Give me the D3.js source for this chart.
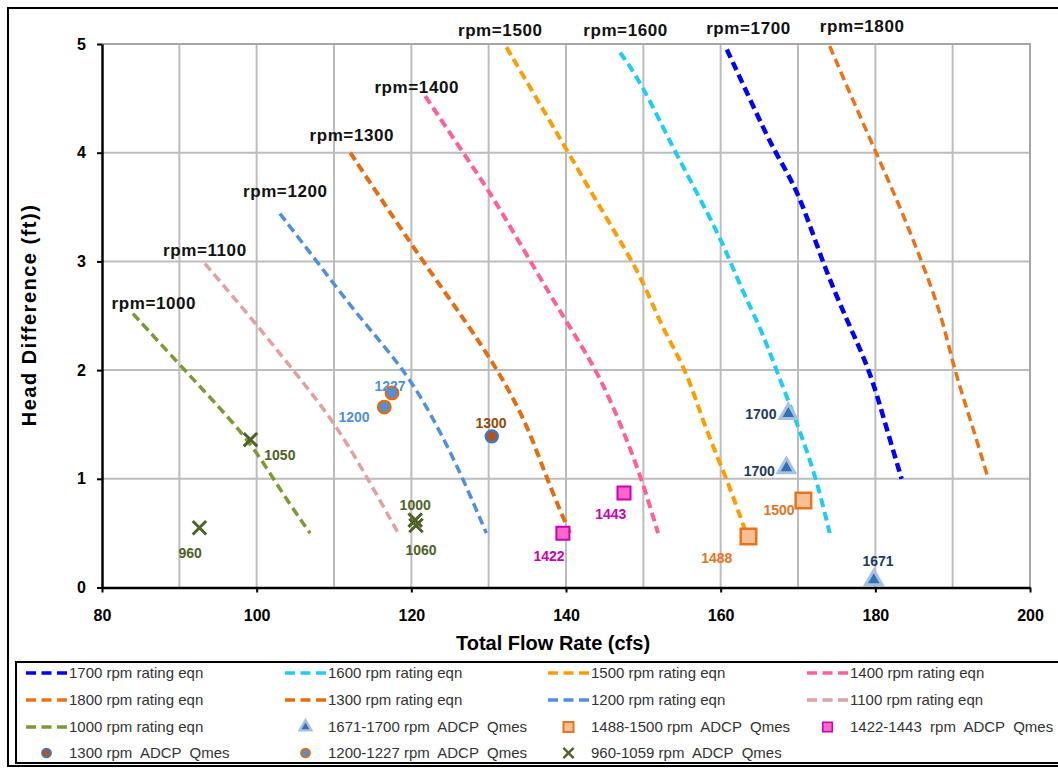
<!DOCTYPE html>
<html>
<head>
<meta charset="utf-8">
<script src="https://cdn.jsdelivr.net/npm/d3@7"></script>
<style>
body{margin:0;background:#fff}
svg{display:block}
text{font-family:"Liberation Sans",Arial,sans-serif}
</style>
</head>
<body>
<svg id="chart" width="1058" height="768"></svg>
<script>
// rating curves: flow Q (cfs) and head difference H (ft)
var q1000 = [84.0, 89.9, 94.5, 99.5, 103.0, 106.9];
var h1000 = [2.52, 2.06, 1.71, 1.31, 0.90, 0.50];
var q1100 = [93.3, 100.0, 104.7, 109.9, 114.4, 118.3];
var h1100 = [2.98, 2.42, 2.00, 1.54, 1.00, 0.50];
var q1200 = [103.0, 108.0, 113.2, 119.2, 123.3, 126.7, 129.7];
var h1200 = [3.44, 2.98, 2.49, 2.00, 1.50, 1.00, 0.50];
var q1300 = [112.1, 116.5, 121.5, 127.2, 131.2, 135.0, 137.5, 140.5];
var h1300 = [4.00, 3.53, 3.00, 2.43, 2.00, 1.50, 1.00, 0.50];
var q1400 = [121.8, 126.7, 130.5, 135.4, 139.9, 144.0, 147.1, 149.8, 151.9];
var h1400 = [4.52, 4.00, 3.60, 3.00, 2.46, 2.00, 1.50, 1.00, 0.50];
var q1500 = [132.3, 136.2, 140.3, 145.2, 149.8, 152.3, 155.6, 157.8, 160.8, 163.3];
var h1500 = [4.97, 4.50, 4.00, 3.40, 2.86, 2.40, 2.00, 1.50, 1.00, 0.50];
var q1600 = [147.0, 149.8, 154.1, 160.0, 162.5, 165.1, 167.2, 170.0, 172.4, 174.1];
var h1600 = [4.92, 4.64, 4.00, 3.23, 2.77, 2.40, 2.00, 1.49, 1.00, 0.50];
var q1700 = [160.8, 164.0, 167.0, 170.0, 173.1, 176.3, 179.3, 181.3, 183.4];
var h1700 = [4.95, 4.46, 4.00, 3.66, 3.00, 2.46, 2.00, 1.50, 1.00];
var q1800 = [174.1, 177.0, 180.1, 183.2, 186.0, 188.6, 190.2, 192.5, 194.6];
var h1800 = [4.98, 4.50, 4.00, 3.50, 3.00, 2.50, 2.00, 1.50, 1.00];

// rpm=... captions: anchor (Q, H) of each caption
var rpmNames = ["rpm=1000","rpm=1100","rpm=1200","rpm=1300","rpm=1400","rpm=1500","rpm=1600","rpm=1700","rpm=1800"];
var rpmNameQ = [86.7, 93.3, 103.7, 112.3, 120.7, 131.5, 147.7, 163.6, 178.3];
var rpmNameH = [2.56, 3.05, 3.59, 4.11, 4.55, 5.07, 5.07, 5.09, 5.11];

// ADCP measurements
var q1671 = [168.75, 168.5, 179.8];
var h1671 = [1.60, 1.10, 0.07];
var lab1671 = ["1700", "1700", "1671"];
var labQ1671 = [165.2, 165.0, 180.35];
var labH1671 = [1.55, 1.026, 0.198];

var q1488 = [163.6, 170.7];
var h1488 = [0.47, 0.80];
var lab1488 = ["1488", "1500"];
var labQ1488 = [159.5, 167.55];
var labH1488 = [0.225, 0.667];

var q1422 = [139.6, 147.5];
var h1422 = [0.50, 0.87];
var lab1422 = ["1422", "1443"];
var labQ1422 = [137.8, 145.8];
var labH1422 = [0.244, 0.630];

var q1300m = [130.4];
var h1300m = [1.39];
var lab1300 = ["1300"];
var labQ1300 = [130.3];
var labH1300 = [1.467];

var q1200m = [116.5, 117.5];
var h1200m = [1.66, 1.79];
var lab1200 = ["1200", "1227"];
var labQ1200 = [112.6, 117.25];
var labH1200 = [1.522, 1.812];

var q960 = [92.6, 99.2, 120.5, 120.6];
var h960 = [0.55, 1.36, 0.62, 0.57];
var lab960 = ["960", "1050", "1000", "1060"];
var labQ960 = [91.4, 103.0, 120.5, 121.25];
var labH960 = [0.271, 1.173, 0.713, 0.299];

var xTicks = [80, 100, 120, 140, 160, 180, 200];
var yTicks = [0, 1, 2, 3, 4, 5];
var xGridVals = [90, 100, 110, 120, 130, 140, 150, 160, 170, 180, 190, 200];

var legendNames = [
  "1700 rpm rating eqn", "1600 rpm rating eqn", "1500 rpm rating eqn", "1400 rpm rating eqn",
  "1800 rpm rating eqn", "1300 rpm rating eqn", "1200 rpm rating eqn", "1100 rpm rating eqn",
  "1000 rpm rating eqn", "1671-1700 rpm  ADCP  Qmes", "1488-1500 rpm  ADCP  Qmes", "1422-1443  rpm  ADCP  Qmes",
  "1300 rpm  ADCP  Qmes", "1200-1227 rpm  ADCP  Qmes", "960-1059 rpm  ADCP  Qmes"
];

// ---------- build ----------
var curves = [
  {key: "1700", q: q1700, h: h1700, color: "#0000ff", w: 4.5},
  {key: "1600", q: q1600, h: h1600, color: "#1ccdf7", w: 4},
  {key: "1500", q: q1500, h: h1500, color: "#ff9d00", w: 4},
  {key: "1400", q: q1400, h: h1400, color: "#ff5f9a", w: 4},
  {key: "1800", q: q1800, h: h1800, color: "#ed7216", w: 3.5},
  {key: "1300", q: q1300, h: h1300, color: "#e66c0e", w: 4},
  {key: "1200", q: q1200, h: h1200, color: "#4f8fdc", w: 3.5},
  {key: "1100", q: q1100, h: h1100, color: "#e3a0a0", w: 3.5},
  {key: "1000", q: q1000, h: h1000, color: "#7b9a35", w: 3.5}
];

var xSym = d3.symbolX || {draw: function(c, s){ var r = Math.sqrt(s) / 2; c.moveTo(-r,-r); c.lineTo(r,r); c.moveTo(-r,r); c.lineTo(r,-r); }};

var groups = [
  {q: q1671, h: h1671, lab: lab1671, lq: labQ1671, lh: labH1671, type: d3.symbolTriangle, size: 120, lsize: 60,
   fill: "#2f72b8", stroke: "#a9c1e0", sw: 3, lcolor: "#1f3a5f"},
  {q: q1488, h: h1488, lab: lab1488, lq: labQ1488, lh: labH1488, type: d3.symbolSquare, size: 240, lsize: 100,
   fill: "#f9bf91", stroke: "#e8731c", sw: 2.5, lcolor: "#e8731c"},
  {q: q1422, h: h1422, lab: lab1422, lq: labQ1422, lh: labH1422, type: d3.symbolSquare, size: 170, lsize: 90,
   fill: "#ff66cc", stroke: "#cc00b4", sw: 2, lcolor: "#cc00b4"},
  {q: q1300m, h: h1300m, lab: lab1300, lq: labQ1300, lh: labH1300, type: d3.symbolCircle, size: 110, lsize: 60,
   fill: "#b5531c", stroke: "#3f77c0", sw: 2.5, lcolor: "#984807"},
  {q: q1200m, h: h1200m, lab: lab1200, lq: labQ1200, lh: labH1200, type: d3.symbolCircle, size: 120, lsize: 60,
   fill: "#4f8fdc", stroke: "#e46c0a", sw: 2.5, lcolor: "#4f8fdc"},
  {q: q960, h: h960, lab: lab960, lq: labQ960, lh: labH960, type: xSym, size: 120, lsize: 70,
   fill: "none", stroke: "#4f6228", sw: 3, lcolor: "#4f6228"}
];

var svg = d3.select("#chart");
svg.append("rect").attr("width", 1058).attr("height", 768).attr("fill", "#fff");

var x = d3.scaleLinear().domain([80, 200]).range([102, 1030]);
var y = d3.scaleLinear().domain([0, 5]).range([587.5, 44]);

// outer frame
svg.append("rect").attr("x", 8).attr("y", 8).attr("width", 1070).attr("height", 758)
  .attr("fill", "none").attr("stroke", "#000").attr("stroke-width", 2);

// grid
var grid = svg.append("g");
grid.selectAll(".gx").data(xGridVals).enter().append("line")
  .attr("x1", d => x(d)).attr("x2", d => x(d)).attr("y1", y(0)).attr("y2", y(5))
  .attr("stroke", "#bdbdbd").attr("stroke-width", 2);
grid.selectAll(".gy").data(yTicks.slice(1)).enter().append("line")
  .attr("x1", x(80)).attr("x2", x(200)).attr("y1", d => y(d)).attr("y2", d => y(d))
  .attr("stroke", "#bdbdbd").attr("stroke-width", 2);
grid.append("path").attr("d", `M${x(80)},${y(5)}H${x(200)}V${y(0)}`)
  .attr("fill", "none").attr("stroke", "#a6a6a6").attr("stroke-width", 2);

// rating curves
var line = d3.line().x(d => x(d[0])).y(d => y(d[1])).curve(d3.curveBasis);
svg.append("g").selectAll("path").data(curves).enter().append("path")
  .attr("d", c => line(d3.zip(c.q, c.h)))
  .attr("fill", "none").attr("stroke", c => c.color).attr("stroke-width", c => c.w)
  .attr("stroke-dasharray", "9,5");

// rpm captions
svg.append("g").selectAll("text").data(rpmNames).enter().append("text")
  .attr("x", (d, i) => x(rpmNameQ[i])).attr("y", (d, i) => y(rpmNameH[i]))
  .attr("text-anchor", "middle").attr("font-size", 17).attr("font-weight", "bold")
  .attr("letter-spacing", 0.6).attr("fill", "#111").text(d => d);

// ADCP markers and labels
groups.forEach(function(g){
  var sym = d3.symbol().type(g.type).size(g.size);
  var gg = svg.append("g");
  gg.selectAll("path").data(d3.range(g.q.length)).enter().append("path")
    .attr("transform", i => `translate(${x(g.q[i])},${y(g.h[i])})`)
    .attr("d", sym()).attr("fill", g.fill).attr("stroke", g.stroke).attr("stroke-width", g.sw);
  gg.selectAll("text").data(g.lab).enter().append("text")
    .attr("x", (d, i) => x(g.lq[i])).attr("y", (d, i) => y(g.lh[i]))
    .attr("text-anchor", "middle").attr("font-size", 14).attr("font-weight", "bold")
    .attr("fill", g.lcolor).text(d => d);
});

// axes
var axL = svg.append("g").attr("transform", `translate(${x(80)},0)`)
  .call(d3.axisLeft(y).tickValues(yTicks).tickFormat(d3.format("d")).tickSize(5).tickSizeOuter(0).tickPadding(11));
var axB = svg.append("g").attr("transform", `translate(0,${y(0)})`)
  .call(d3.axisBottom(x).tickValues(xTicks).tickFormat(d3.format("d")).tickSize(5).tickSizeOuter(0).tickPadding(17));
[axL, axB].forEach(function(a){
  a.select(".domain").attr("stroke", "#000").attr("stroke-width", 2.5);
  a.selectAll(".tick line").attr("stroke", "#000").attr("stroke-width", 2);
  a.selectAll(".tick text").attr("font-size", 16).attr("font-weight", "bold").attr("fill", "#000")
    .attr("font-family", '"Liberation Sans",Arial,sans-serif');
});

// titles
svg.append("text").attr("transform", "translate(36,315) rotate(-90)")
  .attr("text-anchor", "middle").attr("font-size", 20).attr("font-weight", "bold")
  .attr("letter-spacing", 1.5).text("Head Difference (ft))");
svg.append("text").attr("x", 553).attr("y", 650)
  .attr("text-anchor", "middle").attr("font-size", 20).attr("font-weight", "bold")
  .text("Total Flow Rate (cfs)");

// legend
var leg = svg.append("g");
leg.append("rect").attr("x", 16).attr("y", 662).attr("width", 1060).attr("height", 101)
  .attr("fill", "#fff").attr("stroke", "#000").attr("stroke-width", 2);
var colX = [26, 285, 548, 807];
var rowY = [673, 700, 727, 753];
var legendItems = legendNames.map(function(n, i){
  return {name: n, col: i % 4, row: Math.floor(i / 4), curve: curves[i], group: groups[i - curves.length]};
});
var li = leg.selectAll(".li").data(legendItems).enter().append("g")
  .attr("transform", d => `translate(${colX[d.col]},${rowY[d.row]})`);
li.filter(d => d.curve).append("line")
  .attr("x1", 0).attr("x2", 41).attr("y1", 0).attr("y2", 0)
  .attr("stroke", d => d.curve.color).attr("stroke-width", d => Math.min(d.curve.w, 3.5))
  .attr("stroke-dasharray", "10,5.5");
li.filter(d => d.group).append("path")
  .attr("transform", "translate(20.5,0)")
  .attr("d", d => d3.symbol().type(d.group.type).size(d.group.lsize)())
  .attr("fill", d => d.group.fill).attr("stroke", d => d.group.stroke)
  .attr("stroke-width", d => d.group.sw * 0.8);
li.append("text").attr("x", 43).attr("y", 5).attr("font-size", 15).attr("fill", "#333")
  .attr("xml:space", "preserve").style("white-space", "pre").text(d => d.name);
</script>
</body>
</html>
